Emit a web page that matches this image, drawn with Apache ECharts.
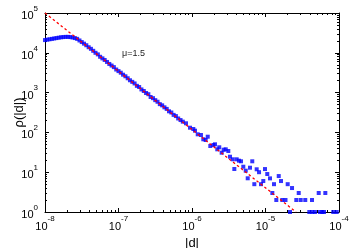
<!DOCTYPE html>
<html><head><meta charset="utf-8">
<script src="https://cdn.jsdelivr.net/npm/echarts@6/dist/echarts.min.js"></script>
<style>html,body{margin:0;padding:0;background:#fff}#c{width:353px;height:248px}</style>
</head><body><div id="c"></div>
<script>
// exponents (log10) of |d| and rho(|d|)
const dExp = [
-8.000,-7.969,-7.938,-7.906,-7.875,-7.844,-7.813,-7.781,-7.750,-7.719,
-7.688,-7.656,-7.625,-7.594,-7.563,-7.531,-7.500,-7.469,-7.438,-7.406,
-7.375,-7.344,-7.313,-7.281,-7.250,-7.219,-7.188,-7.156,-7.125,-7.094,
-7.063,-7.031,-7.000,-6.969,-6.938,-6.906,-6.875,-6.844,-6.813,-6.781,
-6.750,-6.719,-6.688,-6.656,-6.625,-6.594,-6.563,-6.531,-6.500,-6.469,
-6.438,-6.406,-6.375,-6.344,-6.313,-6.281,-6.250,-6.219,-6.188,-6.156,
-6.125,
-6.082,-6.027,-5.982,-5.959,-5.922,-5.878,-5.846,-5.814,-5.786,-5.751,
-5.710,-5.687,-5.656,-5.629,-5.596,-5.569,-5.541,-5.506,-5.483,-5.446,
-5.424,-5.392,-5.361,-5.333,-5.302,-5.269,-5.242,-5.211,-5.180,-5.152,
-5.120,-5.088,-5.061,-5.030,-5.007,-4.976,-4.939,-4.907,-4.884,-4.853,
-4.820,-4.789,-4.772,-4.728,-4.698,-4.667,-4.639,-4.581,-4.548,-4.521,
-4.459,-4.404,-4.367,-4.363,-4.327,-4.276,-4.259,-4.227,-4.204,-4.186,
-4.078,-4.031
];
const rhoExp = [
4.32,4.33,4.34,4.35,4.36,4.37,4.38,4.39,4.395,4.40,
4.40,4.395,4.385,4.37,4.35,4.31,4.27,4.23,4.19,4.14,
4.10,4.05,4.00,3.96,3.90,3.86,3.82,3.77,3.72,3.68,
3.64,3.58,3.54,3.50,3.45,3.41,3.36,3.31,3.27,3.23,
3.17,3.14,3.08,3.04,2.99,2.96,2.89,2.86,2.81,2.77,
2.71,2.68,2.63,2.59,2.53,2.50,2.44,2.41,2.35,2.31,
2.27,
2.229,2.118,2.085,2.043,1.952,1.935,1.827,1.809,1.892,1.658,
1.683,1.701,1.575,1.626,1.490,1.565,1.575,1.533,1.389,1.324,
1.080,1.324,1.289,1.274,1.138,1.038,0.847,1.113,1.274,0.699,
1.073,1.000,0.699,0.778,1.079,0.954,0.845,0.477,0.699,0.301,
0.903,0.778,0.301,0.301,0.699,0,0.602,0.301,0.477,0.301,
0.301,0,0.301,0,0,0.477,0,0,0,0.477,
0,0
];
// fitted power law (mu = 1.5) endpoints
const fitD = [1e-8, 2.6e-5];
const fitRho = [1e5, 1];
const xTicks = [1e-8, 1e-7, 1e-6, 1e-5, 1e-4];
const yTicks = [1, 10, 100, 1000, 10000, 100000];

function minors(lo, hi) {
  const out = [];
  for (let e = lo; e < hi; e++) for (let m = 2; m <= 9; m++) out.push(m * Math.pow(10, e));
  return out;
}
const xMinor = minors(-8, -4);
const yMinor = minors(0, 5);

const points = dExp.map((e, i) => [Math.pow(10, e), Math.pow(10, rhoExp[i])]);
const fit = fitD.map((d, i) => [d, fitRho[i]]);

const FONT = 'Liberation Sans, Arial, sans-serif';
const fmt = v => '{b|10}{s|' + Math.round(Math.log10(v)) + '}';
const rich = {
  b: {fontSize: 11, fontFamily: FONT, color: '#000', verticalAlign: 'bottom', lineHeight: 17},
  s: {fontSize: 8, fontFamily: FONT, color: '#000', verticalAlign: 'top', lineHeight: 17}
};

function xAx(pos, ticks, len, withLine, label) {
  return {
    type: 'log', logBase: 10, min: 1e-8, max: 1e-4, position: pos,
    axisLine: {show: withLine, lineStyle: {color: '#000', width: 1}},
    axisTick: {show: true, inside: true, length: len, customValues: ticks, lineStyle: {color: '#000', width: 1}},
    axisLabel: label ? {show: true, customValues: xTicks, formatter: fmt, rich: rich, margin: 3} : {show: false},
    splitLine: {show: false}, minorTick: {show: false},
    name: label ? '|d|' : '', nameLocation: 'middle', nameGap: 25, nameMoveOverlap: false,
    nameTextStyle: {fontSize: 13, fontFamily: FONT, color: '#000'}
  };
}
function yAx(pos, ticks, len, withLine, label) {
  return {
    type: 'log', logBase: 10, min: 1, max: 1e5, position: pos,
    axisLine: {show: withLine, lineStyle: {color: '#000', width: 1}},
    axisTick: {show: true, inside: true, length: len, customValues: ticks, lineStyle: {color: '#000', width: 1}},
    axisLabel: label ? {show: true, customValues: yTicks, formatter: fmt, rich: rich, margin: 7} : {show: false},
    splitLine: {show: false}, minorTick: {show: false},
    name: label ? 'ρ(|d|)' : '', nameLocation: 'middle', nameGap: 19, nameMoveOverlap: false,
    nameTextStyle: {fontSize: 13, fontFamily: FONT, color: '#000'}
  };
}

const chart = echarts.init(document.getElementById('c'), null, {renderer: 'canvas'});
chart.setOption({
  animation: false,
  backgroundColor: '#fff',
  grid: {left: 45, top: 13, right: 14, bottom: 36, containLabel: false, outerBoundsMode: 'none'},
  xAxis: [
    xAx('bottom', xTicks, 4, true, true),
    xAx('bottom', xMinor, 2, false, false),
    xAx('top', xTicks, 4, true, false),
    xAx('top', xMinor, 2, false, false)
  ],
  yAxis: [
    yAx('left', yTicks, 4, true, true),
    yAx('left', yMinor, 2, false, false),
    yAx('right', yTicks, 4, true, false),
    yAx('right', yMinor, 2, false, false)
  ],
  graphic: [{
    type: 'text', left: 122, top: 49,
    style: {text: 'μ=1.5', fontSize: 9, fontFamily: FONT, fill: '#222'}
  }],
  series: [
    {
      type: 'scatter', xAxisIndex: 0, yAxisIndex: 0, data: points,
      symbol: 'rect', symbolSize: 4, clip: false,
      itemStyle: {color: '#0000ff'}, z: 3
    },
    {
      type: 'line', xAxisIndex: 0, yAxisIndex: 0, data: fit,
      symbol: 'none', lineStyle: {color: '#ff0000', width: 1.3, type: [2.5, 2.5]}, z: 4
    }
  ]
});
</script></body></html>
